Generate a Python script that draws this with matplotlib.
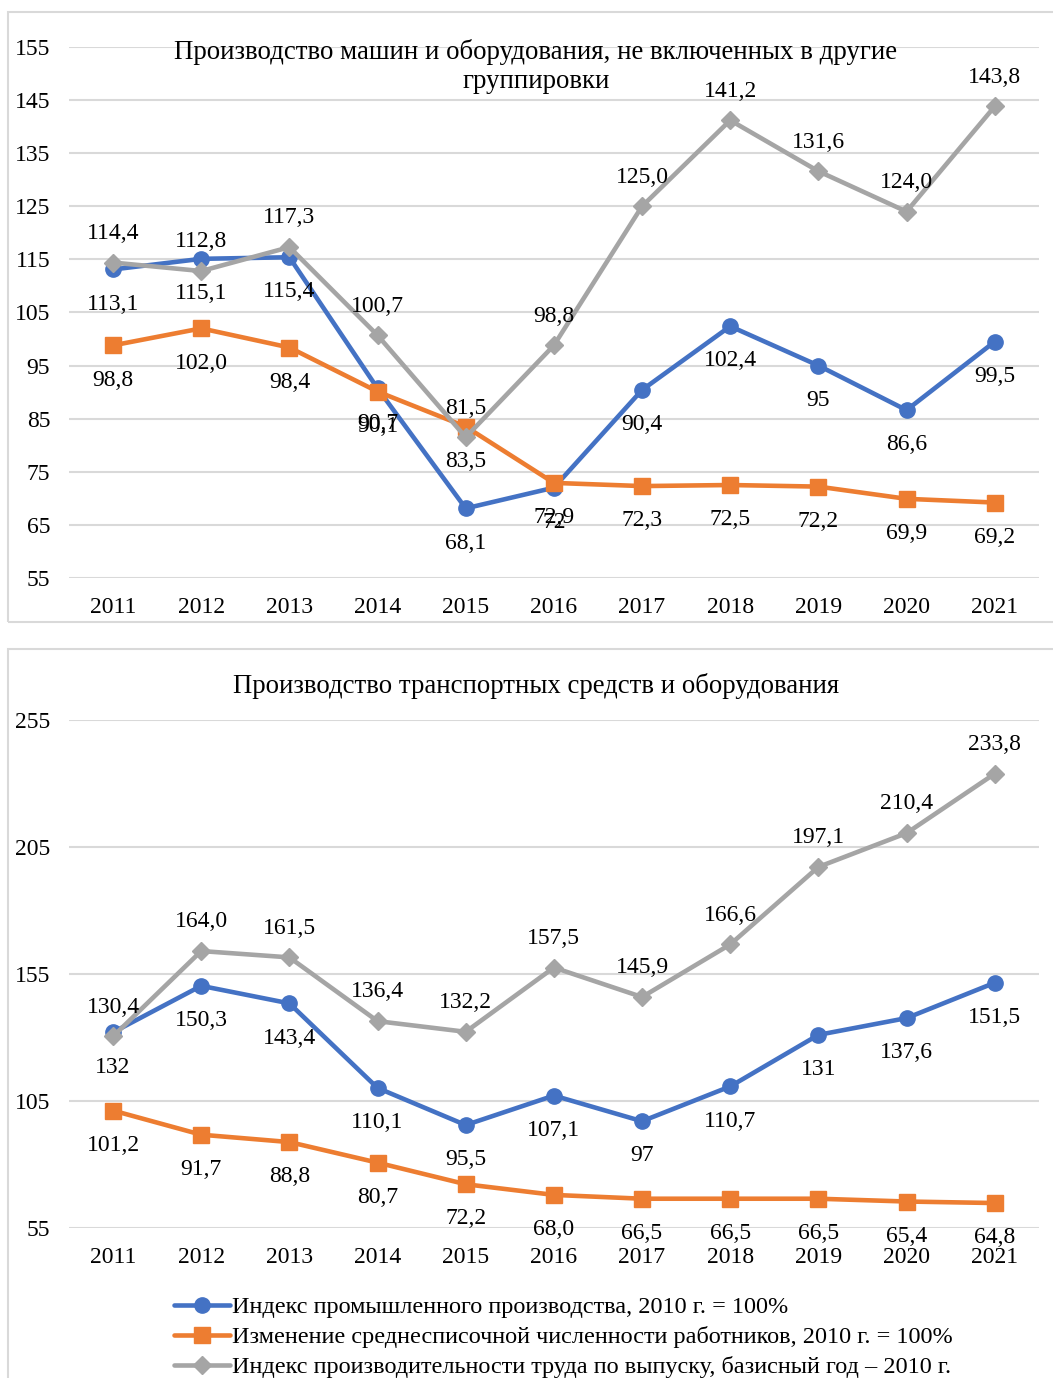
import matplotlib
matplotlib.use('Agg')
import matplotlib.pyplot as plt
from matplotlib.patches import Rectangle

plt.rcParams['font.family'] = ['Liberation Serif', 'DejaVu Serif']

years = ['2011', '2012', '2013', '2014', '2015', '2016', '2017', '2018', '2019', '2020', '2021']

# машины и оборудование
top_prod = ['113,1', '115,1', '115,4', '90,7', '68,1', '72', '90,4', '102,4', '95', '86,6', '99,5']
top_empl = ['98,8', '102,0', '98,4', '90,1', '83,5', '72,9', '72,3', '72,5', '72,2', '69,9', '69,2']
top_labor = ['114,4', '112,8', '117,3', '100,7', '81,5', '98,8', '125,0', '141,2', '131,6', '124,0', '143,8']

# транспортные средства
bot_prod = ['132', '150,3', '143,4', '110,1', '95,5', '107,1', '97', '110,7', '131', '137,6', '151,5']
bot_empl = ['101,2', '91,7', '88,8', '80,7', '72,2', '68,0', '66,5', '66,5', '66,5', '65,4', '64,8']
bot_labor = ['130,4', '164,0', '161,5', '136,4', '132,2', '157,5', '145,9', '166,6', '197,1', '210,4', '233,8']

top_title = 'Производство машин и оборудования, не включенных в другие\nгруппировки'
bot_title = 'Производство транспортных средств и оборудования'
legend_names = ['Индекс промышленного производства, 2010 г. = 100%',
                'Изменение среднесписочной численности работников, 2010 г. = 100%',
                'Индекс производительности труда по выпуску, базисный год – 2010 г.']

BLUE = '#4472C4'
ORANGE = '#ED7D31'
GREY = '#A5A5A5'
FS = 17


def num(vals):
    return [float(v.replace(',', '.')) for v in vals]


def draw_panel(ax, prod, empl, labor, yticks):
    x = range(len(years))
    series = [(prod, BLUE, 'o', -25), (empl, ORANGE, 's', -25), (labor, GREY, 'D', 21)]
    lines = []
    for vals, col, mk, off in series:
        ms = 11 if mk != 'D' else 9.5
        ln, = ax.plot(x, num(vals), color=col, lw=3.3, marker=mk, ms=ms,
                      markeredgecolor=col, solid_capstyle='round', zorder=3)
        lines.append(ln)
        for i, (v, s) in enumerate(zip(num(vals), vals)):
            ax.annotate(s, (i, v), xytext=(0, off), textcoords='offset points',
                        ha='center', va='center', fontsize=FS, zorder=5)
    ax.set_xlim(-0.5, len(years) - 0.5)
    ax.set_ylim(yticks[0], yticks[-1])
    ax.set_yticks(yticks)
    ax.set_xticks(list(x))
    ax.set_xticklabels(years)
    ax.grid(axis='y', color='#d9d9d9', lw=1.5, zorder=0)
    ax.set_axisbelow(True)
    for sp in ax.spines.values():
        sp.set_visible(False)
    ax.tick_params(axis='y', length=0, pad=13.5, labelsize=FS)
    ax.tick_params(axis='x', length=0, pad=14, labelsize=FS)
    return lines


fig = plt.figure(figsize=(10.53, 13.78), dpi=100)

# рамки диаграмм
fig.add_artist(Rectangle((0.0076, 0.5486), 1.0, 0.4427, transform=fig.transFigure,
                         fill=False, edgecolor='#d9d9d9', lw=1.5))
fig.add_artist(Rectangle((0.0076, -0.01), 1.0, 0.539, transform=fig.transFigure,
                         fill=False, edgecolor='#d9d9d9', lw=1.5))

ax1 = fig.add_axes([0.0655, 0.5806, 0.921, 0.3853])
draw_panel(ax1, top_prod, top_empl, top_labor, list(range(55, 156, 10)))

ax2 = fig.add_axes([0.0655, 0.1089, 0.921, 0.3687])
handles = draw_panel(ax2, bot_prod, bot_empl, bot_labor, list(range(55, 256, 50)))

fig.text(536 / 1053, 1 - 66.5 / 1378, top_title, ha='center', va='center',
         fontsize=19.4, linespacing=1.2)
fig.text(536 / 1053, 1 - 686 / 1378, bot_title, ha='center', va='center', fontsize=19.3)

fig.legend(handles, legend_names, loc='upper left',
           bbox_to_anchor=(174 / 1053, 1 - 1296 / 1378), frameon=False,
           fontsize=17.5, handlelength=2.3, handletextpad=0.1,
           labelspacing=0.33, borderpad=0, borderaxespad=0)

fig.savefig('out.png', dpi=100)
